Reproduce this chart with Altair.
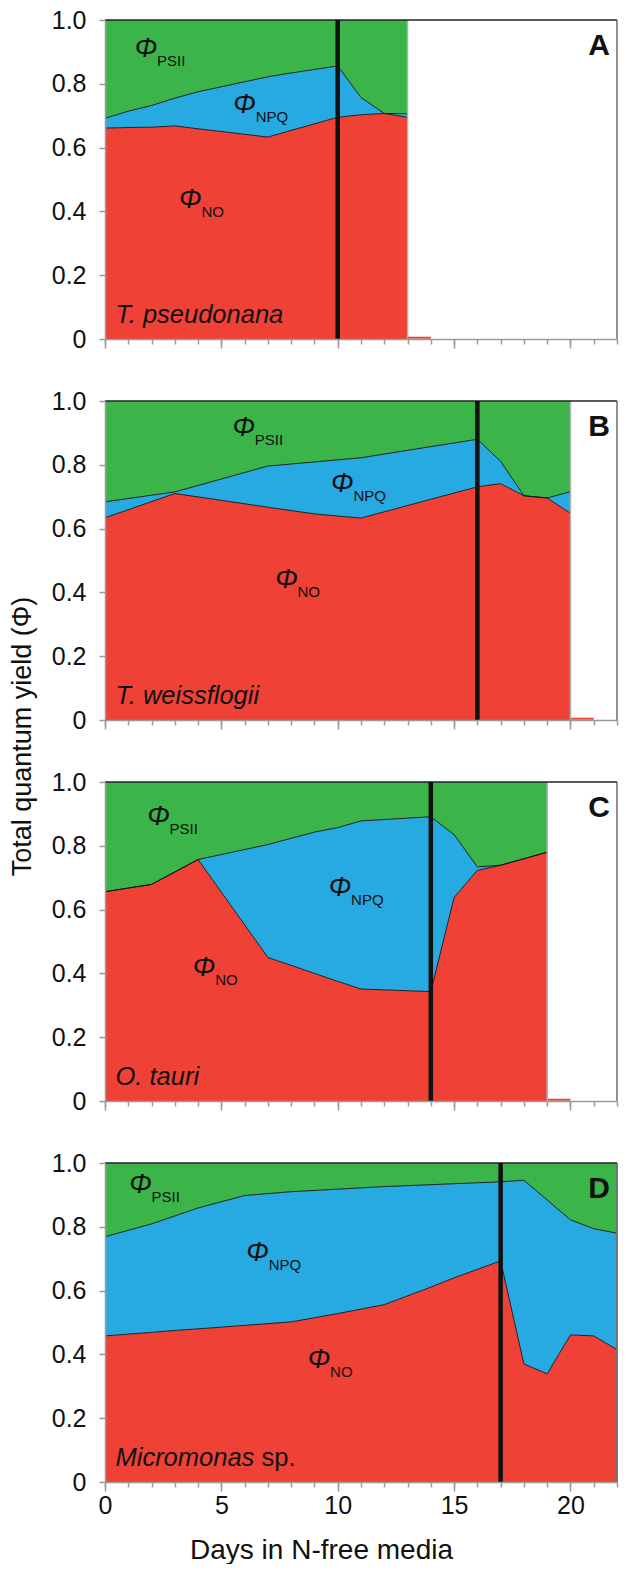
import altair as alt
import pandas as pd

# ---------------- data ----------------
# Panel A  T. pseudonana
DAYS_A = [0, 1, 2, 3, 4, 7, 8, 10, 11, 12, 13]
NO_A   = [0.661, 0.663, 0.664, 0.668, 0.659, 0.633, 0.654, 0.695, 0.703, 0.707, 0.695]
NPQ_A  = [0.031, 0.051, 0.068, 0.087, 0.116, 0.189, 0.180, 0.161, 0.054, 0.000, 0.011]
PSII_A = [0.308, 0.286, 0.268, 0.245, 0.225, 0.178, 0.166, 0.144, 0.243, 0.293, 0.294]

# Panel B  T. weissflogii
DAYS_B = [0, 3, 7, 9, 11, 14, 16, 17, 18, 19, 20]
NO_B   = [0.634, 0.710, 0.667, 0.646, 0.633, 0.692, 0.731, 0.741, 0.703, 0.696, 0.648]
NPQ_B  = [0.050, 0.005, 0.129, 0.163, 0.189, 0.165, 0.149, 0.070, 0.000, 0.000, 0.068]
PSII_B = [0.316, 0.285, 0.204, 0.191, 0.178, 0.143, 0.120, 0.189, 0.297, 0.304, 0.284]

# Panel C  O. tauri
DAYS_C = [0, 2, 4, 7, 9, 10, 11, 14, 15, 16, 17, 19]
NO_C   = [0.656, 0.679, 0.757, 0.450, 0.400, 0.375, 0.351, 0.343, 0.638, 0.723, 0.739, 0.780]
NPQ_C  = [0.000, 0.000, 0.000, 0.354, 0.443, 0.482, 0.527, 0.548, 0.197, 0.011, 0.000, 0.000]
PSII_C = [0.344, 0.321, 0.243, 0.196, 0.157, 0.143, 0.122, 0.109, 0.165, 0.266, 0.261, 0.220]

# Panel D  Micromonas sp.
DAYS_D = [0, 2, 3, 4, 6, 8, 10, 12, 14, 15, 17, 18, 19, 20, 21, 22]
NO_D   = [0.458, 0.469, 0.475, 0.480, 0.491, 0.502, 0.528, 0.556, 0.611, 0.640, 0.693, 0.370, 0.339, 0.461, 0.458, 0.415]
NPQ_D  = [0.311, 0.340, 0.359, 0.379, 0.407, 0.408, 0.390, 0.370, 0.321, 0.295, 0.248, 0.576, 0.545, 0.361, 0.336, 0.365]
PSII_D = [0.231, 0.191, 0.166, 0.141, 0.102, 0.090, 0.082, 0.074, 0.068, 0.065, 0.059, 0.054, 0.116, 0.178, 0.206, 0.220]

TREAT_DAY = {"A": 10, "B": 16, "C": 14, "D": 17}
END_DAY = {"A": 13, "B": 20, "C": 19, "D": 22}
TAIL = {"A": [13, 14], "B": [20, 21], "C": [19, 20]}
SPECIES = {"A": ("T. pseudonana", ""), "B": ("T. weissflogii", ""),
           "C": ("O. tauri", ""), "D": ("Micromonas", "sp.")}
LETTERS = ["A", "B", "C", "D"]

# annotation anchors (day, yield) for the Phi labels
LAB_SUBS = ["PSII", "NPQ", "NO"]
LAB_DAY = {"A": [1.76, 6.0, 3.67], "B": [5.96, 10.2, 7.8],
           "C": [2.3, 10.1, 4.26], "D": [1.53, 6.56, 9.2]}
LAB_Y = {"A": [0.91, 0.732, 0.436], "B": [0.915, 0.739, 0.44],
         "C": [0.891, 0.669, 0.416], "D": [0.931, 0.719, 0.384]}

X_MAJOR = [0, 5, 10, 15, 20]
X_MINOR = list(range(0, 23))
Y_TICKS = [0.2, 0.4, 0.6, 0.8, 1.0]
Y_ZERO = [0]
X_MAX = 22

PANELS = {
    "A": (DAYS_A, NO_A, NPQ_A, PSII_A),
    "B": (DAYS_B, NO_B, NPQ_B, PSII_B),
    "C": (DAYS_C, NO_C, NPQ_C, PSII_C),
    "D": (DAYS_D, NO_D, NPQ_D, PSII_D),
}

# ---------------- styling ----------------
RED, BLUE, GREEN = "#EF4136", "#27AAE1", "#3BB54A"
FONT = "Liberation Sans"
W, H = 512, 319
AXC = "#9a9a9a"

xscale = alt.Scale(domain=[0, X_MAX], nice=False, zero=False)
yscale = alt.Scale(domain=[0, 1], nice=False)


def make_panel(key, last):
    days, no, npq, psii = PANELS[key]
    rows = []
    for d, a, b, c in zip(days, no, npq, psii):
        rows.append({"day": d, "series": "NO", "lo": 0.0, "hi": a})
        rows.append({"day": d, "series": "NPQ", "lo": a, "hi": a + b})
        rows.append({"day": d, "series": "PSII", "lo": a + b, "hi": a + b + c})
    df = pd.DataFrame(rows)

    if last:
        xaxis = alt.Axis(values=X_MAJOR, orient="bottom", tickSize=9, labels=True,
                         labelPadding=2, labelFlush=False, labelOverlap=False,
                         title="Days in N-free media", titleX=216, titleY=76,
                         titleBaseline="alphabetic", zindex=1)
    else:
        xaxis = alt.Axis(values=X_MAJOR, orient="bottom", tickSize=9, labels=False,
                         title=None, zindex=1)
    xminor = alt.Axis(values=X_MINOR, orient="bottom", tickSize=5, labels=False,
                      domain=False, title=None, zindex=1)

    ykw = dict(orient="left", tickSize=6, labelPadding=13, labelFlush=False,
               labelOverlap=False, zindex=1)
    if key == "B":
        yaxis = alt.Axis(values=Y_TICKS, format=".1f", title="Total quantum yield (Φ)",
                         titleAngle=270, titleX=-75, titleY=335, titleFontSize=27,
                         titleBaseline="alphabetic", **ykw)
    else:
        yaxis = alt.Axis(values=Y_TICKS, format=".1f", title=None, **ykw)
    yzero = alt.Axis(values=Y_ZERO, format="d", title=None, domain=False, **ykw)

    X = lambda f="day": alt.X(f"{f}:Q", scale=xscale, axis=None)
    Y = lambda f: alt.Y(f"{f}:Q", scale=yscale, axis=None)

    area = alt.Chart(df).mark_area(interpolate="linear", opacity=1).encode(
        x=alt.X("day:Q", scale=xscale, axis=xaxis),
        y=alt.Y("lo:Q", scale=yscale, axis=yaxis),
        y2="hi:Q",
        color=alt.Color("series:N", legend=None,
                        scale=alt.Scale(domain=["NO", "NPQ", "PSII"], range=[RED, BLUE, GREEN])),
    )

    bdf = df[df["series"] != "PSII"]
    lines = alt.Chart(bdf).mark_line(color="#111", strokeWidth=0.9).encode(
        x=X(), y=Y("hi"), detail="series:N")

    layers = [area, lines]

    if key in TAIL:
        tdf = pd.DataFrame({"day": [TAIL[key][0]], "day2": [TAIL[key][1]], "v": [0.004]})
        layers.append(alt.Chart(tdf).mark_rule(color=RED, strokeWidth=2).encode(
            x=X(), x2="day2:Q", y=Y("v")))

    edf = pd.DataFrame({"day": [END_DAY[key]], "y0": [0.0], "y1": [1.0]})
    layers.append(alt.Chart(edf).mark_rule(color="#b0b0b0", strokeWidth=1.5).encode(
        x=X(), y=Y("y0"), y2="y1:Q"))

    # frame: top edge (carries the minor x ticks) and right edge (carries the "0" y label)
    top = pd.DataFrame({"day": [0], "day2": [X_MAX], "v": [1.0]})
    layers.append(alt.Chart(top).mark_rule(color="#222", strokeWidth=1.3).encode(
        x=alt.X("day:Q", scale=xscale, axis=xminor), x2="day2:Q", y=Y("v")))
    right = pd.DataFrame({"day": [X_MAX], "y0": [0.0], "y1": [1.0]})
    layers.append(alt.Chart(right).mark_rule(color="#555", strokeWidth=1.3).encode(
        x=X(), y=alt.Y("y0:Q", scale=yscale, axis=yzero), y2="y1:Q"))

    trdf = pd.DataFrame({"day": [TREAT_DAY[key]], "y0": [0.0], "y1": [1.0]})
    layers.append(alt.Chart(trdf).mark_rule(color="#111", strokeWidth=4.5).encode(
        x=X(), y=Y("y0"), y2="y1:Q"))

    ldf = pd.DataFrame({"day": LAB_DAY[key], "v": LAB_Y[key], "sub": LAB_SUBS})
    layers.append(alt.Chart(ldf).mark_text(
        text="Φ", font=FONT, fontSize=27, fontStyle="italic", align="center",
        baseline="middle", color="#111").encode(x=X(), y=Y("v")))
    layers.append(alt.Chart(ldf).mark_text(
        font=FONT, fontSize=15, align="left", baseline="middle", dx=11, dy=12,
        color="#111").encode(x=X(), y=Y("v"), text="sub:N"))

    ital, roman = SPECIES[key]
    sdf = pd.DataFrame({"day": [0.45], "v": [0.05], "t": [ital], "r": [roman]})
    layers.append(alt.Chart(sdf).mark_text(
        font=FONT, fontSize=25.5, fontStyle="italic", align="left", baseline="alphabetic",
        color="#111").encode(x=X(), y=Y("v"), text="t:N"))
    if roman:
        layers.append(alt.Chart(sdf).mark_text(
            font=FONT, fontSize=25.5, align="left", baseline="alphabetic", dx=146,
            color="#111").encode(x=X(), y=Y("v"), text="r:N"))

    letdf = pd.DataFrame({"day": [21.7], "v": [0.891], "t": [key]})
    layers.append(alt.Chart(letdf).mark_text(
        font=FONT, fontSize=30, fontWeight="bold", align="right", baseline="alphabetic",
        color="#111").encode(x=X(), y=Y("v"), text="t:N"))

    return alt.layer(*layers).resolve_axis(x="independent", y="independent").properties(
        width=W, height=H)


panels = [make_panel(k, k == "D") for k in LETTERS]

chart = alt.vconcat(*panels, spacing=62, bounds="flush").properties(
    padding={"left": 0, "top": 0, "right": 0, "bottom": 0}
).configure_view(strokeWidth=0).configure_axis(
    grid=False, domainColor=AXC, domainWidth=1.5, tickColor=AXC, tickWidth=1.5,
    labelFont=FONT, labelFontSize=25, labelColor="#111",
    titleFont=FONT, titleFontSize=28, titleFontWeight="normal", titleColor="#111",
)

chart.save("out.html", embed_options={"renderer": "svg", "actions": False})
